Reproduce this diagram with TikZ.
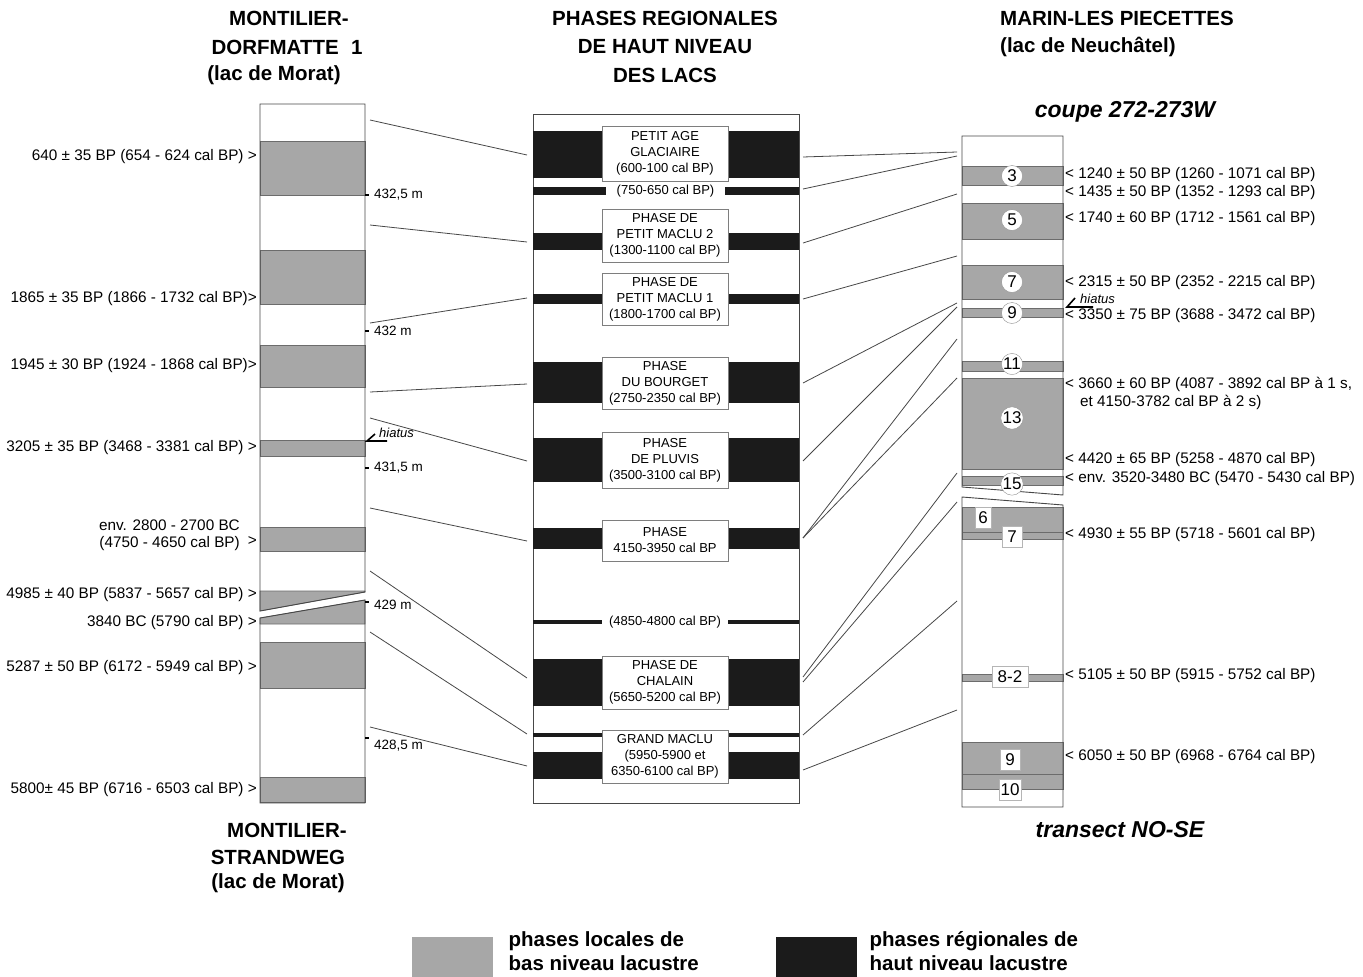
\documentclass[tikz,border=0pt]{standalone}
\usepackage{fontspec}
\setmainfont{Liberation Sans}
\usetikzlibrary{positioning}

\definecolor{lowgray}{HTML}{A7A7A7}
\definecolor{highblack}{HTML}{1B1B1B}
\definecolor{rulegray}{HTML}{474747}

\begin{document}
\begin{tikzpicture}[x=1pt, y=-1pt,
  colbox/.style={draw=rulegray, line width=0.9pt},
  lowband/.style={fill=lowgray, draw=rulegray!80, line width=0.6pt},
  highband/.style={fill=highblack},
  corr/.style={draw=rulegray, line width=0.8pt},
  titletxt/.style={font=\fontsize{20.5}{24}\selectfont\bfseries, inner sep=0pt},
  sitetxt/.style={font=\fontsize{23}{26}\selectfont\bfseries\itshape, inner sep=0pt},
  datelbl/.style={font=\fontsize{15.3}{17}\selectfont, inner sep=0pt},
  phasebox/.style={draw=rulegray!70, fill=white, font=\fontsize{13}{16}\selectfont, align=center, minimum width=126pt, inner sep=0pt},
  gapbox/.style={fill=white, font=\fontsize{13}{16}\selectfont, inner sep=0pt},
  altlbl/.style={font=\fontsize{13.5}{14}\selectfont, inner sep=0pt, anchor=west},
  hiatustxt/.style={font=\fontsize{13}{13}\selectfont\itshape, inner sep=0pt, anchor=west},
  layerc/.style={circle, draw=rulegray!60, fill=white, inner sep=0pt, minimum size=21pt, font=\fontsize{17}{17}\selectfont},
  layers/.style={draw=rulegray!40, fill=white, inner sep=1.5pt, minimum height=21pt, font=\fontsize{17}{17}\selectfont},
  legendtxt/.style={font=\fontsize{20.5}{24}\selectfont\bfseries, align=left, inner sep=0pt, anchor=west},
]
\useasboundingbox (0,0) rectangle (1363,977);

% titles
\node[titletxt] (tl1) at (289,18) {MONTILIER-};
\node[titletxt] (tl2) at (287,47) {DORFMATTE\hspace{0.6em}1};
\node[titletxt] (tl3) at (274,75) {(lac de Morat)};
\node[titletxt] (tm1) at (665,18) {PHASES REGIONALES};
\node[titletxt] (tm2) at (665,47) {DE HAUT NIVEAU};
\node[titletxt] (tm3) at (665,75) {DES LACS};
\node[titletxt, anchor=west] (tr1) at (1000,18) {MARIN-LES PIECETTES};
\node[titletxt, anchor=west] (tr2) at (1000,47) {(lac de Neuchâtel)};
\node[sitetxt] (coupe) at (1125,112) {coupe 272-273W};
\node[titletxt] (bl1) at (287,830) {MONTILIER-};
\node[titletxt] (bl2) at (278,857) {STRANDWEG};
\node[titletxt] (bl3) at (278,883) {(lac de Morat)};
\node[sitetxt] (transect) at (1120,830) {transect NO-SE};

% Montilier: Dorfmatte 1 over Strandweg
\foreach \t/\b in {141/195, 250/304, 345/387, 440/456, 527/551, 642/688, 777/802}
  \draw[lowband] (260,\t) rectangle (365,\b);
\draw[lowband] (260,591) -- (365,591) -- (365,592) -- (260,611) -- cycle;
\draw[lowband] (260,618) -- (365,600) -- (365,624) -- (260,624) -- cycle;
\draw[colbox] (260,104) -- (365,104) -- (365,592) -- (260,611) -- cycle;
\draw[colbox] (260,618) -- (365,600) -- (365,803) -- (260,803) -- cycle;

\foreach \y/\ly/\t [count=\i] in {195/195/{432,5 m}, 331/331/{432 m}, 468/468/{431,5 m}, 602/605/{429 m}, 738/746/{428,5 m}} {
  \draw[line width=2.5pt] (365,\y) -- (369,\y);
  \node[altlbl] (alt\i) at (374,\ly) {\t};
}
\draw[line width=1.6pt] (375,434) -- (367,441) -- (387,441);
\node[hiatustxt] (hiatl) at (379,433) {hiatus};

\foreach \y/\t [count=\i] in {157/{640 ± 35 BP (654 - 624 cal BP) >},
    299/{1865 ± 35 BP (1866 - 1732 cal BP)>},
    366/{1945 ± 30 BP (1924 - 1868 cal BP)>},
    448/{3205 ± 35 BP (3468 - 3381 cal BP) >},
    541/{>},
    595/{4985 ± 40 BP (5837 - 5657 cal BP) >},
    623/{3840 BC (5790 cal BP) >},
    668/{5287 ± 50 BP (6172 - 5949 cal BP) >},
    790/{5800± 45 BP (6716 - 6503 cal BP) >}}
  \node[datelbl, anchor=east] (dl\i) at (257,\y) {\t};
\node[datelbl, anchor=east, align=right] (dlenv) at (240,535) {env. 2800 - 2700 BC\\(4750 - 4650 cal BP)};

% regional high lake-level phases
\draw[colbox] (533,114) rectangle (799,803);
\foreach \t/\b in {131/178, 187/195, 233/250, 294/304, 362/403, 438/482, 528/549, 620/624, 659/706, 733/737, 752/779}
  \fill[highband] (533,\t) rectangle (799,\b);
\node[phasebox, minimum height=55pt] (pag) at (665,153.5) {PETIT AGE\\GLACIAIRE\\(600-100 cal BP)};
\node[gapbox, minimum width=119pt, minimum height=12pt] (p750) at (665.5,191) {(750-650 cal BP)};
\node[phasebox, minimum height=53pt] (pm2) at (665,235.5) {PHASE DE\\PETIT MACLU 2\\(1300-1100 cal BP)};
\node[phasebox, minimum height=52pt] (pm1) at (665,299) {PHASE DE\\PETIT MACLU 1\\(1800-1700 cal BP)};
\node[phasebox, minimum height=52pt] (bourget) at (665,383) {PHASE\\DU BOURGET\\(2750-2350 cal BP)};
\node[phasebox, minimum height=56pt] (pluvis) at (665,460) {PHASE\\DE PLUVIS\\(3500-3100 cal BP)};
\node[phasebox, minimum height=41pt] (p4150) at (665,540.5) {PHASE\\4150-3950 cal BP};
\node[gapbox, minimum width=126pt, minimum height=10pt] (p4850) at (665,622) {(4850-4800 cal BP)};
\node[phasebox, minimum height=53pt] (chalain) at (665,682.5) {PHASE DE\\CHALAIN\\(5650-5200 cal BP)};
\node[phasebox, minimum height=53pt] (gmaclu) at (665,756.5) {GRAND MACLU\\(5950-5900 et\\6350-6100 cal BP)};

% Marin-les Piecettes
\foreach \t/\b in {166/185, 203/239, 265/299, 308/317, 361/371, 378/469, 476/485, 507/532, 532/539, 674/681, 742/774, 774/789}
  \draw[lowband] (962,\t) rectangle (1063,\b);
\draw[colbox] (962,136) -- (1063,136) -- (1063,495) -- (962,487) -- cycle;
\draw[colbox] (962,497) -- (1063,505) -- (1063,807) -- (962,807) -- cycle;

\foreach \y/\n in {176/3, 220/5, 282/7, 313/9, 364/11, 418/13, 484/15}
  \node[layerc] (c\n) at (1012,\y) {\n};
\node[layers, minimum width=16pt] (s6) at (983,518) {6};
\node[layers, minimum width=20pt] (s7) at (1012,537) {7};
\node[layers, minimum width=36pt] (s82) at (1010,677) {8-2};
\node[layers, minimum width=20pt] (s9) at (1010,760) {9};
\node[layers, minimum width=22pt] (s10) at (1010,790) {10};

\draw[line width=1.6pt] (1075,298) -- (1067,307) -- (1093,307);
\node[hiatustxt] (hiatr) at (1080,299) {hiatus};

\foreach \y/\t [count=\i] in {175/{< 1240 ± 50 BP (1260 - 1071 cal BP)},
    193/{< 1435 ± 50 BP (1352 - 1293 cal BP)},
    219/{< 1740 ± 60 BP (1712 - 1561 cal BP)},
    283/{< 2315 ± 50 BP (2352 - 2215 cal BP)},
    316/{< 3350 ± 75 BP (3688 - 3472 cal BP)},
    384/{< 3660 ± 60 BP (4087 - 3892 cal BP à 1 s,},
    460/{< 4420 ± 65 BP (5258 - 4870 cal BP)},
    479/{< env. 3520-3480 BC (5470 - 5430 cal BP)},
    535/{< 4930 ± 55 BP (5718 - 5601 cal BP)},
    676/{< 5105 ± 50 BP (5915 - 5752 cal BP)},
    757/{< 6050 ± 50 BP (6968 - 6764 cal BP)}}
  \node[datelbl, anchor=west] (dr\i) at (1065,\y) {\t};
\node[datelbl, anchor=west] (dr6b) at (1080,402) {et 4150-3782 cal BP à 2 s)};

% correlation lines
\foreach \a/\b [count=\i] in {120/155, 225/242, 323/298, 392/384, 418/461, 508/541, 571/678, 632/734, 727/766} {
  \coordinate (lw\i) at (370,\a);
  \coordinate (mw\i) at (527,\b);
  \draw[corr] (lw\i) -- (mw\i);
}
\foreach \a/\b [count=\i] in {157/152, 189/156, 243/194, 299/256, 383/303, 461/307, 538/339, 538/378, 677/473, 682/502, 735/601, 770/710} {
  \coordinate (me\i) at (803,\a);
  \coordinate (re\i) at (957,\b);
  \draw[corr] (me\i) -- (re\i);
}

% legend
\node[fill=lowgray, minimum width=81pt, minimum height=40pt, inner sep=0pt, anchor=north west] (lowkey) at (412,937) {};
\node[legendtxt, right=15pt of lowkey, yshift=6pt] (lowtxt) {phases locales de\\bas niveau lacustre};
\node[fill=highblack, minimum width=81pt, minimum height=40pt, inner sep=0pt, anchor=north west] (highkey) at (776,937) {};
\node[legendtxt, right=12pt of highkey, yshift=6pt] (hightxt) {phases régionales de\\haut niveau lacustre};
\end{tikzpicture}
\end{document}
